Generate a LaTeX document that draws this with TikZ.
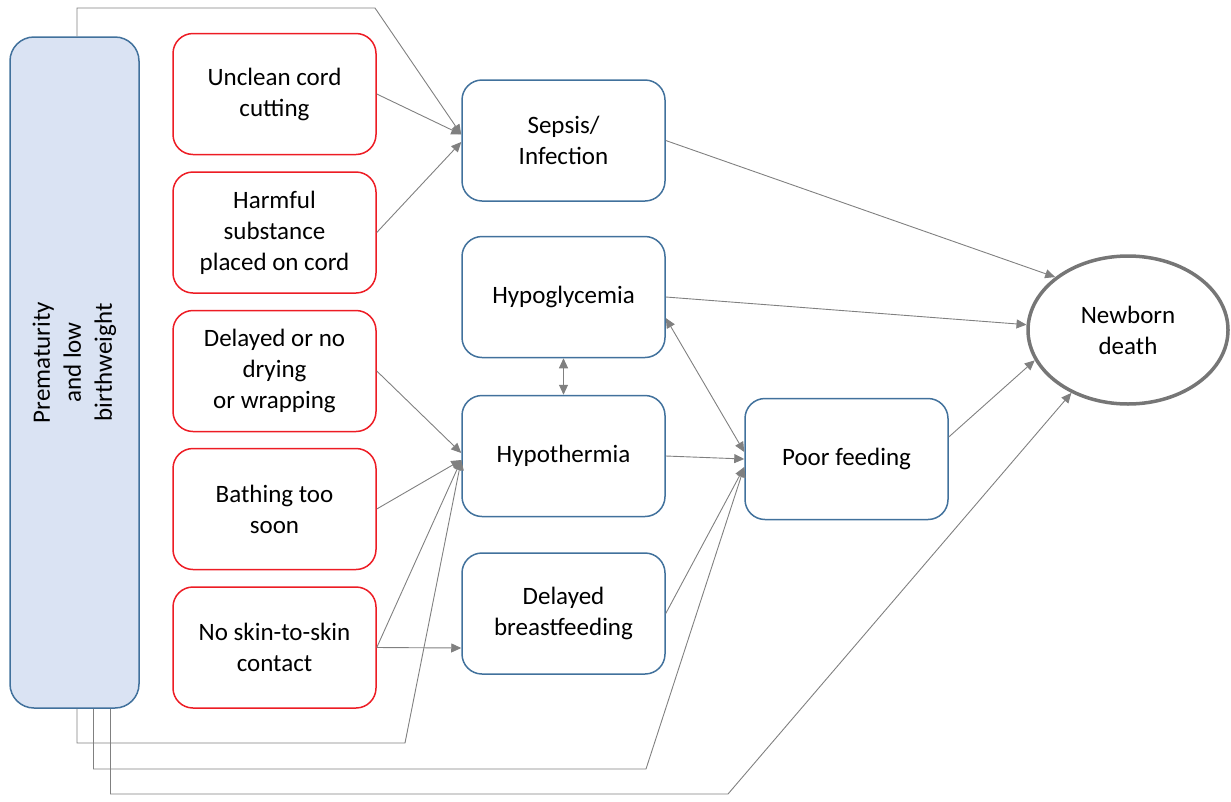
\documentclass[tikz,border=0pt]{standalone}
\usepackage{fontspec}
\setmainfont{Carlito}
\usetikzlibrary{arrows.meta,shapes.geometric}
\definecolor{redb}{RGB}{237,28,36}
\definecolor{blueb}{RGB}{65,113,156}
\definecolor{fillb}{RGB}{218,227,243}
\definecolor{conncol}{RGB}{128,128,128}
\definecolor{ellcol}{RGB}{118,118,118}
\tikzset{
  boxtext/.style={align=center, inner sep=0pt, font=\fontsize{25}{31}\selectfont},
  redbox/.style={boxtext, draw=redb, line width=1.5pt, rounded corners=20pt,
    minimum width=203pt, minimum height=121pt},
  bluebox/.style={boxtext, draw=blueb, line width=1.5pt, rounded corners=20pt,
    minimum width=203pt, minimum height=121pt},
  premnode/.style={boxtext, draw=blueb, fill=fillb, line width=1.5pt, rounded corners=24pt,
    minimum width=671pt, minimum height=129pt, rotate=90},
  deathnode/.style={boxtext, ellipse, draw=ellcol, line width=3.5pt,
    minimum width=200pt, minimum height=148pt},
  conn/.style={draw=conncol, line width=0.9pt, -{Triangle[length=10pt,width=9pt]}},
  dconn/.style={draw=conncol, line width=0.9pt, {Triangle[length=10pt,width=9pt]}-{Triangle[length=10pt,width=9pt]}}
}
\begin{document}
\begin{tikzpicture}[x=1pt,y=-1pt]
\useasboundingbox (0,0) rectangle (1231,801);

\node[premnode] (prem) at (74.5,372.5) {\hspace*{20pt}Prematurity\\\hspace*{20pt}and low\\\hspace*{20pt}birthweight};

\node[redbox] (unclean) at (274.5,94) {Unclean cord\\cutting};
\node[redbox] (harmful) at (274.5,232.5) {Harmful\\substance\\placed on cord};
\node[redbox] (drying) at (274.5,371) {Delayed or no\\drying\\or wrapping};
\node[redbox] (bathing) at (274.5,509) {Bathing too\\soon};
\node[redbox] (skin) at (274.5,647.5) {No skin-to-skin\\contact};

\node[bluebox] (sepsis) at (563.5,140.5) {Sepsis/\\Infection};
\node[bluebox] (hypog) at (563.5,297) {Hypoglycemia};
\node[bluebox] (hypot) at (563.5,456) {Hypothermia};
\node[bluebox] (dbf) at (563.5,613.5) {Delayed\\breastfeeding};
\node[bluebox] (poor) at (846.5,459) {Poor feeding};

\node[deathnode] (death) at (1128,330) {Newborn\\death};

\coordinate (b0) at (375,8);
\coordinate (b1) at (405,743);
\coordinate (b2) at (646,769);
\coordinate (b3) at (728,794);

% premature lines
\draw[conn] ([xshift=2.5pt]prem.east) |- (b0) -- ([yshift=6pt]sepsis.west);
\draw[conn] ([xshift=2.5pt]prem.west) |- (b1) -- ([yshift=-4pt]hypot.west);
\draw[conn] ([xshift=19pt]prem.west) |- (b2) -- ([yshift=-8pt]poor.west);
\draw[conn] ([xshift=36pt]prem.west) |- (b3) -- (death.228);

% red to blue
\draw[conn] (unclean.east) -- ([yshift=6pt]sepsis.west);
\draw[conn] (harmful.east) -- ([yshift=-1.5pt]sepsis.west);
\draw[conn] (drying.east) -- ([yshift=3pt]hypot.west);
\draw[conn] (bathing.east) -- ([yshift=-4pt]hypot.west);
\draw[conn] (skin.east) -- ([yshift=-4pt]hypot.west);
\draw[conn] (skin.east) -- ([yshift=-34.5pt]dbf.west);

% blue links
\draw[dconn] (hypog.south) -- (hypot.north);
\draw[dconn] ([yshift=-21pt]hypog.east) -- ([yshift=7pt]poor.west);
\draw[conn] (hypot.east) -- (poor.west);
\draw[conn] (dbf.east) -- ([yshift=-8pt]poor.west);

% to death
\draw[conn] (sepsis.east) -- (death.144);
\draw[conn] (hypog.east) -- (death.177);
\draw[conn] ([yshift=22pt]poor.east) -- (death.198);
\end{tikzpicture}
\end{document}
